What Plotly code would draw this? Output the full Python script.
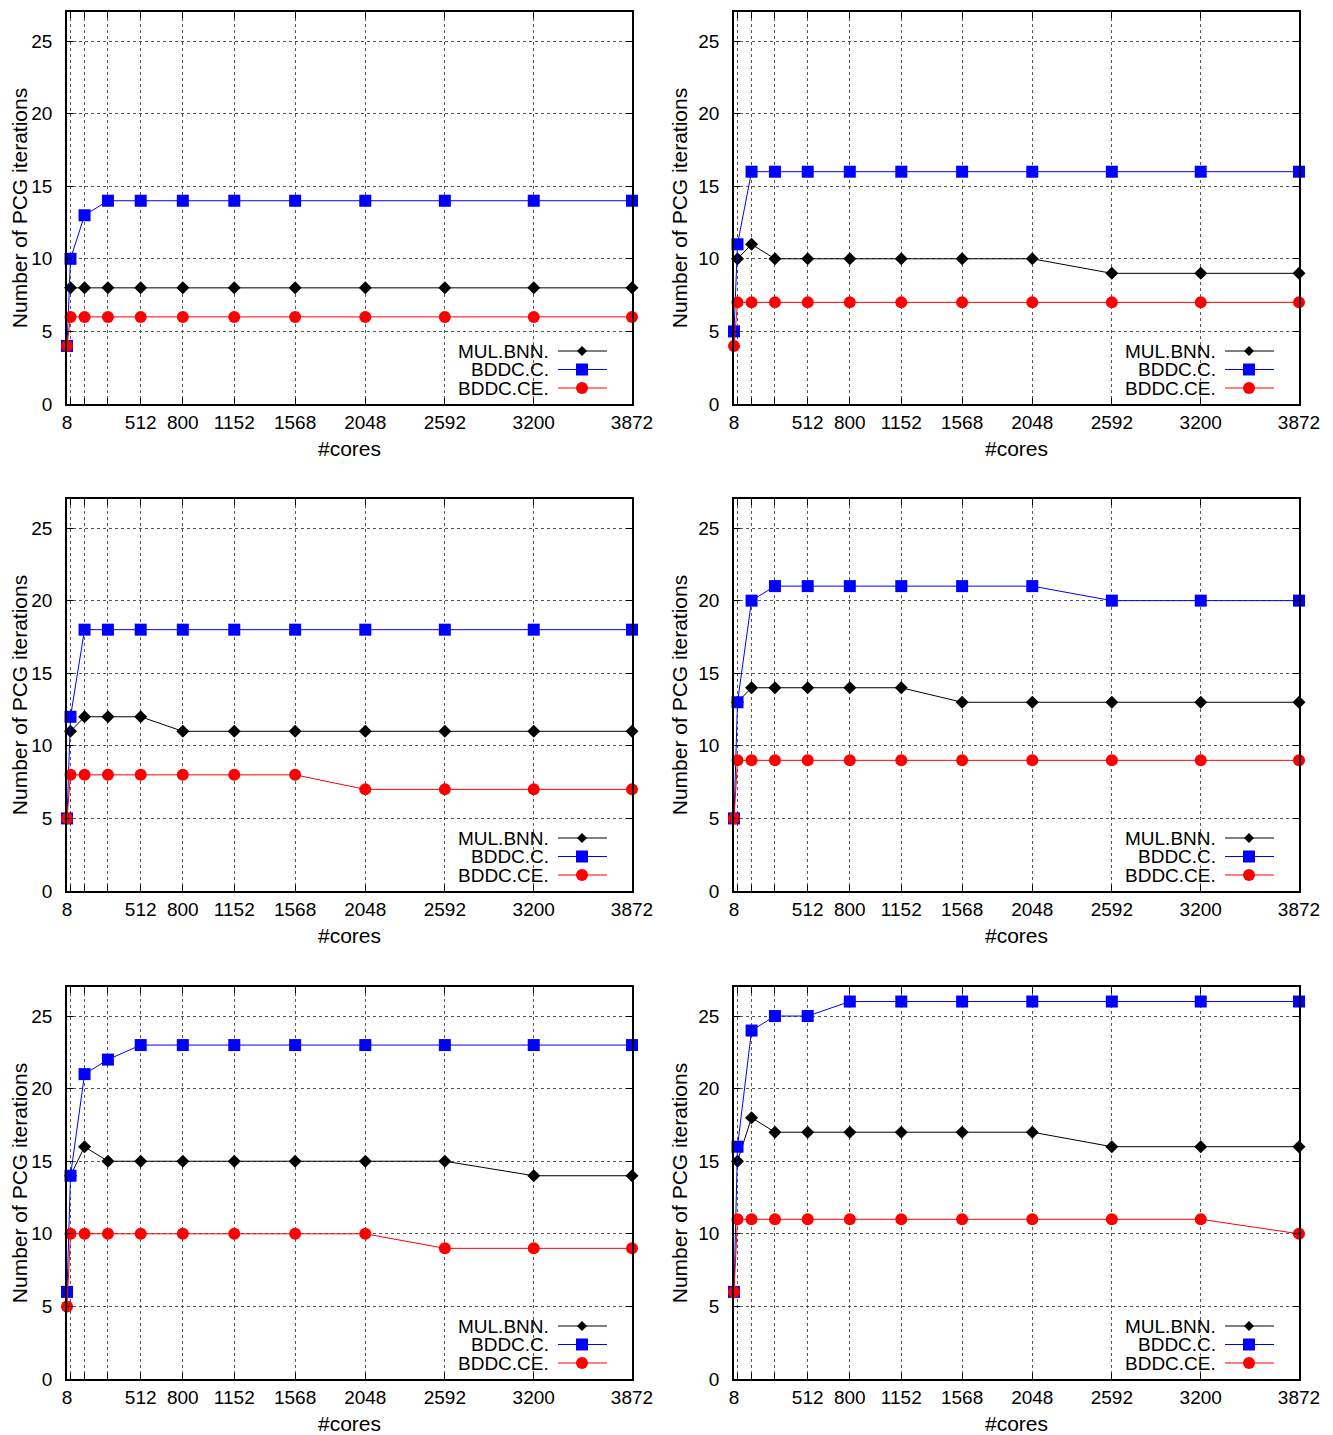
import plotly.graph_objects as go

WIN_W, WIN_H = 1333, 1435
OFF = 8  # default page body margin
W, H = WIN_W - OFF, WIN_H - OFF

cores = [8, 32, 128, 288, 512, 800, 1152, 1568, 2048, 2592, 3200, 3872]
tick_vals = [8, 32, 128, 288, 512, 800, 1152, 1568, 2048, 2592, 3200, 3872]
tick_text = ["8", "", "", "", "512", "800", "1152", "1568", "2048", "2592", "3200", "3872"]
y_ticks = [0, 5, 10, 15, 20, 25]

series_names = ["MUL.BNN.", "BDDC.C.", "BDDC.CE."]

mul_bnn = [
    [None, 8, 8, 8, 8, 8, 8, 8, 8, 8, 8, 8],
    [None, 10, 11, 10, 10, 10, 10, 10, 10, 9, 9, 9],
    [None, 11, 12, 12, 12, 11, 11, 11, 11, 11, 11, 11],
    [None, 13, 14, 14, 14, 14, 14, 13, 13, 13, 13, 13],
    [None, 14, 16, 15, 15, 15, 15, 15, 15, 15, 14, 14],
    [None, 15, 18, 17, 17, 17, 17, 17, 17, 16, 16, 16],
]
bddc_c = [
    [4, 10, 13, 14, 14, 14, 14, 14, 14, 14, 14, 14],
    [5, 11, 16, 16, 16, 16, 16, 16, 16, 16, 16, 16],
    [5, 12, 18, 18, 18, 18, 18, 18, 18, 18, 18, 18],
    [5, 13, 20, 21, 21, 21, 21, 21, 21, 20, 20, 20],
    [6, 14, 21, 22, 23, 23, 23, 23, 23, 23, 23, 23],
    [6, 16, 24, 25, 25, 26, 26, 26, 26, 26, 26, 26],
]
bddc_ce = [
    [4, 6, 6, 6, 6, 6, 6, 6, 6, 6, 6, 6],
    [4, 7, 7, 7, 7, 7, 7, 7, 7, 7, 7, 7],
    [5, 8, 8, 8, 8, 8, 8, 8, 7, 7, 7, 7],
    [5, 9, 9, 9, 9, 9, 9, 9, 9, 9, 9, 9],
    [5, 10, 10, 10, 10, 10, 10, 10, 10, 9, 9, 9],
    [6, 11, 11, 11, 11, 11, 11, 11, 11, 11, 11, 10],
]

colors = ["#000000", "#0000ff", "#ff0000"]
symbols = ["diamond", "square", "circle"]
msizes = [10, 12, 12]

# panel pixel boxes in window coordinates (left, right, top, bottom)
cols = [(67, 632), (734, 1299)]
rows = [(12, 404), (499, 891), (987, 1379)]


def px(xw):
    return (xw - OFF) / W


def py(yw):
    return 1 - (yw - OFF) / H


FONT = "Liberation Sans, Arial, Helvetica, sans-serif"
TICK_SIZE = 19
TITLE_SIZE = 21
fig = go.Figure()
shapes = []
annotations = []

for i in range(6):
    r, c = divmod(i, 2)
    L, R = cols[c]
    T, B = rows[r]
    k = "" if i == 0 else str(i + 1)
    xa, ya = "x" + k, "y" + k
    data = [mul_bnn[i], bddc_c[i], bddc_ce[i]]
    for s in range(3):
        fig.add_trace(go.Scatter(
            x=cores, y=data[s], xaxis=xa, yaxis=ya, mode="lines+markers",
            line=dict(color=colors[s], width=1),
            marker=dict(symbol=symbols[s], size=msizes[s], color=colors[s]),
            cliponaxis=False, showlegend=False, connectgaps=False,
            name=series_names[s]))
    common = dict(showline=True, linecolor="black", linewidth=1.5, mirror="ticks",
                  ticks="inside", ticklen=6, tickcolor="black", automargin=False,
                  showgrid=True, gridcolor="#555555", griddash="dot", gridwidth=1,
                  zeroline=False, tickfont=dict(family=FONT, size=TICK_SIZE, color="black"))
    fig.layout["xaxis" + k] = dict(
        domain=[px(L), px(R)], anchor=ya, range=[8, 3872],
        tickmode="array", tickvals=tick_vals, ticktext=tick_text,
        title=dict(text="#cores", font=dict(family=FONT, size=TITLE_SIZE, color="black"), standoff=10),
        **common)
    fig.layout["yaxis" + k] = dict(
        domain=[py(B), py(T)], anchor=xa, range=[0, 27],
        tickmode="array", tickvals=y_ticks, ticklabelstandoff=9,
        title=dict(text="Number of PCG iterations", font=dict(family=FONT, size=TITLE_SIZE, color="black"), standoff=5),
        **common)
    # legend (gnuplot style: text left of sample)
    for s in range(3):
        yy = B - 53 + 18.5 * s
        annotations.append(dict(
            x=px(R - 82), y=py(yy), xref="paper", yref="paper",
            xanchor="right", yanchor="middle", showarrow=False, borderpad=0,
            text=series_names[s], font=dict(family=FONT, size=TICK_SIZE, color="black")))
        shapes.append(dict(type="line", xref="paper", yref="paper",
                           x0=px(R - 74), x1=px(R - 25), y0=py(yy), y1=py(yy),
                           line=dict(color=colors[s], width=1)))
        mx, my = px(R - 50), py(yy)
        if s == 0:
            shapes.append(dict(type="path", xref="paper", yref="paper",
                               xsizemode="pixel", ysizemode="pixel", xanchor=mx, yanchor=my,
                               path="M -5 0 L 0 5 L 5 0 L 0 -5 Z",
                               fillcolor="black", line=dict(color="black", width=0)))
        elif s == 1:
            shapes.append(dict(type="rect", xref="paper", yref="paper",
                               xsizemode="pixel", ysizemode="pixel", xanchor=mx, yanchor=my,
                               x0=-6, x1=6, y0=-6, y1=6,
                               fillcolor="#0000ff", line=dict(color="#0000ff", width=0)))
        else:
            shapes.append(dict(type="circle", xref="paper", yref="paper",
                               xsizemode="pixel", ysizemode="pixel", xanchor=mx, yanchor=my,
                               x0=-6, x1=6, y0=-6, y1=6,
                               fillcolor="#ff0000", line=dict(color="#ff0000", width=0)))

fig.update_layout(width=W, height=H, margin=dict(l=0, r=0, t=0, b=0, autoexpand=False),
                  paper_bgcolor="white", plot_bgcolor="white",
                  shapes=shapes, annotations=annotations, showlegend=False,
                  font=dict(family=FONT, size=TICK_SIZE, color="black"))
fig.write_html("out.html")
